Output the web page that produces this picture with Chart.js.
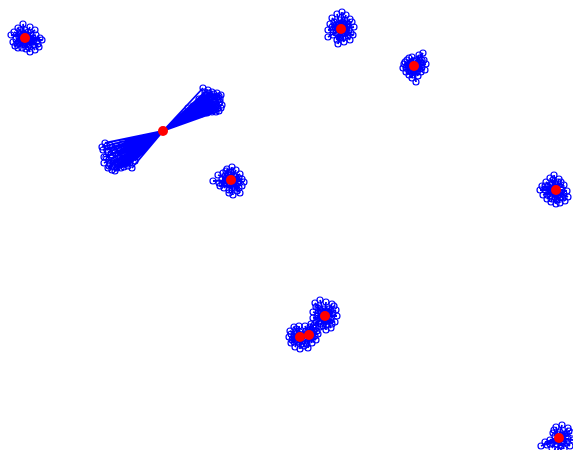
<!DOCTYPE html>
<html>
<head>
<meta charset="utf-8">
<script src="https://cdn.jsdelivr.net/npm/chart.js@4/dist/chart.umd.min.js"></script>
<style>
  html, body { margin: 0; padding: 0; background: #fff; }
  #wrap { width: 573px; height: 450px; }
</style>
</head>
<body>
<div id="wrap"><canvas id="ch"></canvas></div>
<script>
/* k-means: centroides (rojo) y puntos de cada grupo (azul) unidos a su centroide. */

// centroides, en el orden de los grupos de abajo
const centers = [
  [25, 38], [341, 29], [414, 66], [163, 131], [231, 180],
  [556, 190], [325, 316], [300, 337], [309, 335], [559, 438],
];

const groupA = [[23,24],[18,28],[30,27],[35,30],[11,35],[14,32],[36,35],[40,38],[42,40],[38,44],[39,47],[35,50],[30,52],[26,49],[22,48],[18,48],[15,46],[13,42],[16,39],[20,34],[28,32],[32,42],[24,44],[29,45],[19,42],[33,38],
  [21,36],[27,40],[31,35],[23,41],[26,34],[34,45],[17,44],[28,47],[37,41],[20,30],
  [22,38],[28,37],[25,42],[24,34],[29,41],[20,40],[27,44],[31,39],[19,37],[25,30]];
const groupB = [[342,12],[337,14],[346,15],[350,19],[352,22],[332,18],[330,24],[328,30],[328,37],[333,35],[337,40],[338,44],[343,38],[348,36],[353,35],[349,30],[354,27],[345,24],[335,27],[340,20],[347,32],[333,30],[344,42],[350,40],
  [339,25],[344,28],[336,33],[342,34],[347,27],[338,30],[345,20],[334,22],[351,33],[340,38],
  [341,24],[346,29],[337,28],[341,35],[345,33],[336,25],[343,22],[332,27],[348,24],[339,37]];
const groupC = [[423,53],[419,55],[412,57],[407,60],[404,64],[403,68],[406,72],[409,75],[412,78],[416,82],[418,76],[421,72],[425,70],[426,64],[424,60],[416,60],[410,68],[419,66],[414,72],[420,58],[408,65],
  [411,62],[417,64],[415,69],[411,71],[418,69],[422,67],[413,75],[409,58],[421,63],[406,68],
  [414,61],[418,62],[410,64],[413,70],[417,72],[420,69],[409,71],[412,66],[422,60],[405,62]];
const groupD = [
  [203,88],[208,90],[212,92],[217,93],[221,95],[220,99],[219,103],[222,105],[218,108],[216,112],
  [212,112],[207,113],[201,114],[196,112],[192,110],[197,106],[202,103],[207,100],[211,97],[214,101],
  [209,106],[204,109],[215,97],[199,99],[205,95],[213,107],[218,100],[210,102],[200,108],[194,113],
  [198,103],[203,98],[206,104],[211,109],[215,104],[219,96],[209,93],[193,106],[188,108],[201,111],[215,110],[206,110],
  [205,92],[210,95],[214,94],[217,97],[220,102],[216,106],[213,110],[208,111],[204,106],[200,104],
  [196,109],[199,112],[212,104],[206,97],[209,99],[190,112],[185,114],[221,108],[219,111],
  [105,143],[110,145],[116,146],[122,144],[128,143],[134,143],[103,150],[108,152],[114,150],[120,151],
  [127,149],[133,148],[106,157],[112,158],[118,156],[125,155],[131,154],[104,163],[110,164],[117,162],
  [123,161],[129,160],[108,168],[114,167],[121,168],[128,166],[132,168],[137,150],[139,146],[115,171],
  [112,147],[119,148],[126,146],[130,151],[136,146],[115,153],[122,154],[109,160],[116,160],[127,158],[120,165],[112,170],[125,164],[134,156],[107,146],
  [107,150],[111,155],[118,153],[124,158],[131,157],[134,152],[138,148],[130,146],[124,149],[104,157],
  [109,166],[117,168],[124,167],[130,163],[113,163],[120,158],[102,147],[140,144],[135,161],
];
const groupE = [[232,167],[227,169],[236,170],[223,173],[218,175],[240,174],[242,179],[213,181],[219,183],[224,188],[229,190],[233,195],[237,191],[240,193],[242,186],[236,185],[228,178],[234,176],[222,179],[238,182],
  [228,173],[233,181],[226,184],[230,185],[235,179],[225,176],[239,188],[231,172],[220,186],[244,182],
  [231,175],[236,177],[226,180],[230,184],[235,188],[226,171],[239,178],[222,184],[233,186],[229,193]];
const groupF = [[554,175],[550,178],[559,179],[546,182],[542,186],[540,190],[543,195],[547,199],[551,202],[556,204],[560,203],[565,201],[568,197],[567,191],[564,185],[561,182],[553,188],[558,195],[549,192],[562,190],
  [552,184],[557,186],[555,194],[550,196],[561,197],[564,194],[545,190],[557,200],[553,180],[548,186],
  [556,185],[561,187],[551,190],[555,197],[560,193],[552,199],[563,198],[547,195],[558,182],[545,186]];
const groupG = [[320,300],[315,303],[326,302],[332,304],[336,310],[337,316],[335,322],[331,328],[326,330],[320,327],[316,322],[313,318],[313,312],[318,308],[324,309],[330,314],[322,318],[328,321],[334,306],[317,316],
  [321,313],[327,311],[324,320],[319,321],[329,318],[332,324],[316,307],[323,326],[329,309],[314,325],
  [325,311],[329,313],[321,316],[326,320],[331,320],[320,310],[318,313],[333,313],[327,325],[321,324]];
const groupH1 = [[294,327],[299,326],[290,331],[289,337],[291,343],[295,347],[300,349],[304,346],[303,341],[297,333],[293,338],[306,331],[298,342],
  [296,337],[300,332],[302,336],[294,342],[291,334],[296,329],
  [297,337],[300,340],[299,334],[295,340],[302,344],[292,340]];
const groupH2 = [[305,326],[311,324],[316,328],[318,334],[316,340],[312,343],[307,344],[310,330],[313,337],[304,338],[308,348],
  [308,331],[312,333],[310,339],[315,336],[313,327],[304,334],
  [309,336],[311,337],[307,339],[314,331],[310,327],[317,331]];
const groupI = [[556,427],[562,425],[568,428],[572,433],[573,440],[570,446],[564,449],[558,450],[552,448],[547,445],[541,446],[550,440],[553,433],[560,432],[566,437],[557,444],[563,442],
  [555,436],[561,438],[558,441],[554,430],[567,443],[545,442],[569,431],
  [559,434],[562,441],[556,441],[565,434],[561,446],[550,444],[568,439]];

const groups = [groupA, groupB, groupC, groupD, groupE, groupF, groupG, groupH1, groupH2, groupI];

const BLUE = "#0000ff";
const RED = "#ff0000";
const xy = (p) => ({ x: p[0], y: p[1] });

// un trazo centro -> punto -> centro -> punto ... por grupo
const linkSets = groups.map((g, i) => {
  const c = xy(centers[i]);
  const data = [];
  g.forEach((p) => { data.push(c, xy(p)); });
  data.push(c);
  return {
    type: "scatter", data, showLine: true, borderColor: BLUE, borderWidth: 1.8,
    pointRadius: 0, order: 3,
  };
});

new Chart(document.getElementById("ch"), {
  type: "scatter",
  data: {
    datasets: [
      ...linkSets,
      { data: groups.flat().map(xy), pointStyle: "circle", pointRadius: 3,
        borderColor: BLUE, borderWidth: 1.2, backgroundColor: "rgba(0,0,0,0)", order: 2 },
      { data: centers.map(xy), pointRadius: 5, borderWidth: 0,
        backgroundColor: RED, borderColor: RED, order: 1 },
    ],
  },
  options: {
    responsive: true,
    maintainAspectRatio: false,
    animation: false,
    layout: { padding: 0, autoPadding: false },
    plugins: { legend: { display: false }, tooltip: { enabled: false } },
    scales: {
      x: { type: "linear", min: 0, max: 573, display: false },
      y: { type: "linear", min: 0, max: 450, reverse: true, display: false },
    },
  },
});
</script>
</body>
</html>
